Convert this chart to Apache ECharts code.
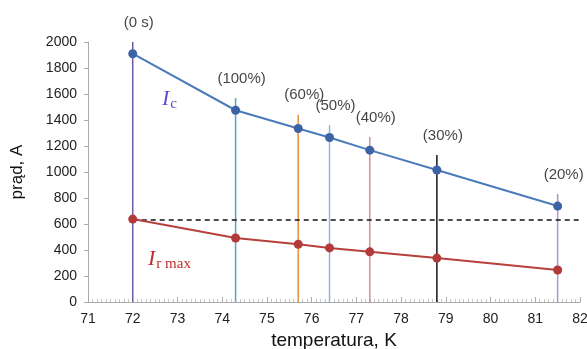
<!DOCTYPE html>
<html>
<head>
<meta charset="utf-8">
<script src="https://cdn.jsdelivr.net/npm/echarts@6/dist/echarts.min.js"></script>
<style>
  html, body { margin: 0; padding: 0; background: #fff; }
  #chart { width: 587px; height: 349px; }
</style>
</head>
<body>
<div id="chart"></div>
<script>
// temperatures of the measuring points, K
const temps = [72, 74.3, 75.7, 76.4, 77.3, 78.8, 81.5];
// critical current Ic, A
const icValues = [1910, 1475, 1335, 1265, 1168, 1015, 738];
// maximum current Ir max, A
const irValues = [638, 492, 444, 416, 386, 338, 246];
// top of each vertical marker line, A
const markerTops = [2000, 1570, 1440, 1360, 1270, 1130, 830];
const markerLabels = ['(0 s)', '(100%)', '(60%)', '(50%)', '(40%)', '(30%)', '(20%)'];
const markerColors = ['#6b5aa6', '#4ea6c9', '#e2923f', '#93b3df', '#dc8e90', '#151515', '#a39bc0'];
// horizontal reference level
const refLevel = 630;
const refRange = [72, 82];

const font = 'Liberation Sans';
const chart = echarts.init(document.getElementById('chart'), null, { renderer: 'canvas' });

const markerSeries = temps.map((t, i) => ({
  type: 'line',
  silent: true,
  symbol: 'none',
  lineStyle: { color: markerColors[i], width: 1.5 },
  z: 1,
  data: [[t, 0], [t, markerTops[i]]]
}));

chart.setOption({
  animation: false,
  grid: { left: 88, right: 7, top: 42, bottom: 47, outerBoundsMode: 'none', containLabel: false },
  xAxis: {
    type: 'value',
    min: 71,
    max: 82,
    interval: 1,
    name: 'temperatura, K',
    nameLocation: 'middle',
    nameGap: 23,
    nameTextStyle: { color: '#111', fontSize: 19, fontFamily: font },
    axisLine: { lineStyle: { color: '#aaa' } },
    axisTick: { inside: true, length: 5, lineStyle: { color: '#aaa' } },
    minorTick: { show: true, splitNumber: 10, length: 3, lineStyle: { color: '#c4c4c4' } },
    axisLabel: { color: '#222', fontSize: 14, margin: 10, fontFamily: font },
    splitLine: { show: false }
  },
  yAxis: {
    type: 'value',
    min: 0,
    max: 2000,
    interval: 200,
    name: 'prąd, A',
    nameLocation: 'middle',
    nameGap: 62,
    nameTextStyle: { color: '#111', fontSize: 17, fontFamily: font },
    axisLine: { show: true, lineStyle: { color: '#aaa' } },
    axisTick: { show: true, length: 4, lineStyle: { color: '#aaa' } },
    axisLabel: { color: '#222', fontSize: 14, margin: 11, fontFamily: font, formatter: v => String(v) },
    splitLine: { show: false }
  },
  graphic: [
    {
      type: 'text',
      left: 162,
      top: 88,
      style: {
        text: '{i|I}{s|c}',
        rich: {
          i: { fontFamily: 'Liberation Serif', fontStyle: 'italic', fontSize: 22, fill: '#5a4fd0' },
          s: { fontFamily: 'Liberation Serif', fontSize: 15, fill: '#5a4fd0', padding: [10, 0, 0, 1] }
        }
      }
    },
    {
      type: 'text',
      left: 148,
      top: 248,
      style: {
        text: '{i|I}{s|r max}',
        rich: {
          i: { fontFamily: 'Liberation Serif', fontStyle: 'italic', fontSize: 22, fill: '#c0302c' },
          s: { fontFamily: 'Liberation Serif', fontSize: 15, fill: '#c0302c', padding: [10, 0, 0, 1] }
        }
      }
    }
  ],
  series: [
    ...markerSeries,
    {
      type: 'scatter',
      silent: true,
      symbolSize: 0,
      z: 4,
      label: {
        show: true,
        position: 'top',
        distance: 12,
        offset: [6, 0],
        color: '#111',
        fontSize: 15,
        fontFamily: font,
        formatter: p => markerLabels[p.dataIndex]
      },
      data: temps.map((t, i) => [t, markerTops[i]])
    },
    {
      type: 'line',
      silent: true,
      symbol: 'none',
      lineStyle: { color: '#111', width: 1.5, type: [5, 4] },
      z: 2,
      data: refRange.map(t => [t, refLevel])
    },
    {
      name: 'Ic',
      type: 'line',
      symbol: 'circle',
      symbolSize: 9,
      lineStyle: { color: '#4a7bbb', width: 2 },
      itemStyle: { color: '#3d63a6' },
      z: 3,
      data: temps.map((t, i) => [t, icValues[i]])
    },
    {
      name: 'Ir max',
      type: 'line',
      symbol: 'circle',
      symbolSize: 9,
      lineStyle: { color: '#b7403c', width: 2 },
      itemStyle: { color: '#b23a3a' },
      z: 3,
      data: temps.map((t, i) => [t, irValues[i]])
    }
  ]
});
</script>
</body>
</html>
